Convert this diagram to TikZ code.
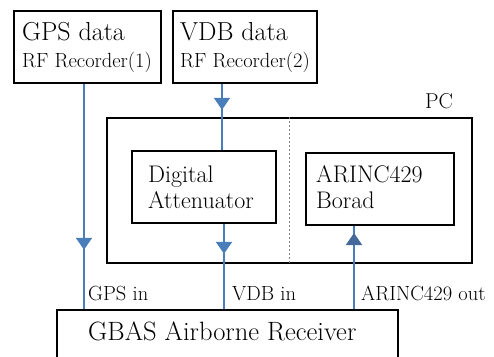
\documentclass[tikz,border=0pt]{standalone}
\usetikzlibrary{arrows.meta,decorations.markings}
\definecolor{lineblue}{HTML}{4A7EBB}
\definecolor{darkblue}{HTML}{44699A}
\newcommand\myfs[1]{\fontsize{#1}{#1}\selectfont}
\tikzset{
  box/.style={draw=black,line width=1.8pt,inner sep=0pt,anchor=north west},
  conn/.style={draw=lineblue,line width=2pt},
  midarrow/.style 2 args={postaction={decorate},decoration={markings,
     mark=at position #1 with {\arrow[#2]{Triangle[width=16pt,length=12pt]}}}},
  txt/.style={anchor=base west,inner sep=0pt},
}
\begin{document}
\begin{tikzpicture}[x=1pt,y=-1pt]
\clip (0,0) rectangle (494,356);
% boxes
\node[box,minimum width=147pt,minimum height=72pt] (gps) at (13,10) {};
\node[box,minimum width=144pt,minimum height=72pt] (vdb) at (172,10) {};
\node[box,minimum width=365pt,minimum height=145pt] (pc) at (106,117) {};
\node[box,minimum width=144pt,minimum height=72pt] (att) at (131,150) {};
\node[box,minimum width=148pt,minimum height=72pt] (arinc) at (305,152) {};
\node[box,minimum width=341pt,minimum height=80pt] (gbas) at (56,309) {};
% divider
\draw[gray,line width=0.8pt,dash pattern=on 2pt off 2pt] (289,0 |- pc.north) -- (289,0 |- pc.south);
% texts
\node[txt] (t1) at (22,40) {\myfs{26}GPS data};
\node[txt] (t2) at (22,67) {\myfs{20.5}RF Recorder(1)};
\node[txt] (t3) at (180,40) {\myfs{26}VDB data};
\node[txt] (t4) at (180,67) {\myfs{20.5}RF Recorder(2)};
\node[txt] (t5) at (425,108) {\myfs{21.5}PC};
\node[txt] (t6) at (148,182) {\myfs{24}Digital};
\node[txt] (t7) at (148,208) {\myfs{24}Attenuator};
\node[txt] (t8) at (316,182) {\myfs{24}ARINC429};
\node[txt] (t9) at (316,208) {\myfs{24}Borad};
\node[txt] (t10) at (88,340) {\myfs{26.5}GBAS Airborne Receiver};
\node[txt] (l1) at (88,300) {\myfs{20.5}GPS in};
\node[txt] (l2) at (232,300) {\myfs{20.5}VDB in};
\node[txt] (l3) at (361,300) {\myfs{20.5}ARINC429 out};
% connectors
\draw[conn,midarrow={166pt}{lineblue}] (84,0 |- gps.south) -- (84,0 |- gbas.north);
\draw[conn,midarrow={26pt}{lineblue}] (222,0 |- vdb.south) -- (222,0 |- att.north);
\draw[conn,line width=2.5pt,midarrow={30pt}{lineblue}] (224,0 |- att.south) -- (224,0 |- gbas.north);
\draw[conn,midarrow={76pt}{darkblue}] (354,0 |- gbas.north) -- (354,0 |- arinc.south);
\end{tikzpicture}
\end{document}
